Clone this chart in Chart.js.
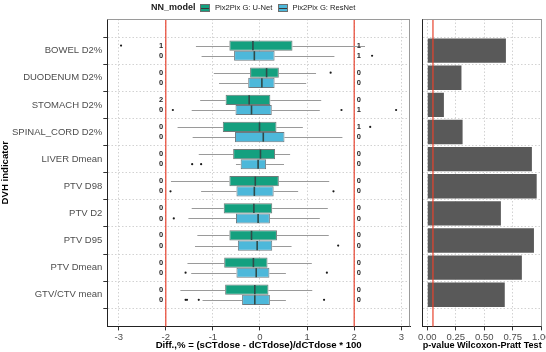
<!DOCTYPE html>
<html>
<head>
<meta charset="utf-8">
<script src="https://cdn.jsdelivr.net/npm/chart.js@4.4.1/dist/chart.umd.min.js"></script>
<style>
  body { margin: 0; background: #fff; font-family: "Liberation Sans", Arial, sans-serif; }
  #wrap { position: relative; width: 546px; height: 352px; overflow: hidden; }
  #left { position: absolute; left: 0; top: 0; }
  #right { position: absolute; left: 412px; top: 0; }
  .lg { position: absolute; white-space: nowrap; color: #1a1a1a; line-height: 1; }
  .lg-title { font-weight: bold; font-size: 9px; left: 151px; top: 3px; }
  .lg-text { font-size: 7.6px; top: 4px; }
  .lg-key { position: absolute; top: 4px; width: 8px; height: 6px; border: 1px solid #6e6e6e; }
  .lg-key::after { content: ""; position: absolute; left: 0; right: 0; top: 2.5px; height: 1px; background: #3a3a3a; }
</style>
</head>
<body>
<div id="wrap">
  <canvas id="left" width="412" height="352"></canvas>
  <canvas id="right" width="134" height="352"></canvas>
  <span class="lg lg-title">NN_model</span>
  <span class="lg-key" style="left:200px;background:#14a07f"></span>
  <span class="lg lg-text" style="left:215px">Pix2Pix G: U-Net</span>
  <span class="lg-key" style="left:278px;background:#4db8da"></span>
  <span class="lg lg-text" style="left:292.5px">Pix2Pix G: ResNet</span>
</div>
<script>
// DVH indicators, top to bottom
var categories = ['BOWEL D2%', 'DUODENUM D2%', 'STOMACH D2%', 'SPINAL_CORD D2%', 'LIVER Dmean',
    'PTV D98', 'PTV D2', 'PTV D95', 'PTV Dmean', 'GTV/CTV mean'];

// box stats per indicator: [lower whisker, q1, median, q3, upper whisker]
var unetStats = [
    [-1.36, -0.65, -0.15, 0.69, 2.23],
    [-0.98, -0.21, 0.14, 0.40, 1.19],
    [-1.27, -0.73, -0.23, 0.22, 1.30],
    [-1.75, -0.79, -0.01, 0.35, 0.91],
    [-1.30, -0.57, 0.01, 0.32, 0.64],
    [-1.89, -0.65, -0.10, 0.40, 1.47],
    [-1.45, -0.77, -0.13, 0.26, 1.44],
    [-1.33, -0.65, -0.18, 0.36, 1.46],
    [-1.54, -0.76, -0.14, 0.16, 1.10],
    [-1.69, -0.74, -0.11, 0.18, 1.11]
];
var resnetStats = [
    [-1.24, -0.55, -0.12, 0.31, 1.58],
    [-0.87, -0.25, 0.04, 0.31, 0.98],
    [-1.45, -0.52, -0.18, 0.25, 1.27],
    [-1.43, -0.53, 0.07, 0.52, 1.75],
    [-0.51, -0.41, -0.04, 0.13, 0.51],
    [-1.25, -0.50, -0.12, 0.29, 0.81],
    [-1.52, -0.51, -0.04, 0.21, 1.27],
    [-1.38, -0.47, -0.06, 0.26, 0.67],
    [-1.46, -0.50, -0.08, 0.20, 0.55],
    [-1.22, -0.38, -0.11, 0.21, 0.55]
];
var unetOutliers = [[-2.95], [1.50], [], [2.34], [], [], [], [], [], []];
var resnetOutliers = [[2.38], [], [-1.85, 1.73, 2.89], [], [-1.44, -1.25], [-1.90, 1.56], [-1.83], [1.66], [-1.58, 1.42], [-1.58, -1.55, -1.30, 1.36]];

// counts of values beyond the -2 / +2 limits
var unetLow = [1, 0, 2, 0, 0, 0, 0, 0, 0, 0];
var resnetLow = [0, 0, 0, 0, 0, 0, 0, 0, 0, 0];
var unetHigh = [1, 0, 0, 1, 0, 0, 0, 0, 0, 0];
var resnetHigh = [1, 0, 1, 0, 0, 0, 0, 0, 0, 0];
var limits = [-2, 2];

// Wilcoxon-Pratt p-values
var pValues = [0.69, 0.30, 0.146, 0.31, 0.918, 0.96, 0.646, 0.936, 0.83, 0.68];
var pThreshold = 0.05;

var xTicks = [-3, -2, -1, 0, 1, 2, 3];
var xTickLabels = ['-3', '-2', '-1', '0', '1', '2', '3'];
var pTicks = [0, 0.25, 0.5, 0.75, 1];
var pTickLabels = ['0.00', '0.25', '0.50', '0.75', '1.00'];

Chart.defaults.font.family = '"Liberation Sans", Arial, sans-serif';

var tickFont = {size: 9.5};
var titleFont = {size: 9.6, weight: 'bold'};
var gridColor = '#d2d2d2';

function line(ctx, x1, y1, x2, y2) {
    ctx.beginPath();
    ctx.moveTo(x1, y1);
    ctx.lineTo(x2, y2);
    ctx.stroke();
}

// top and right edges of the panel (left/bottom come from the axes)
var frame = {
    id: 'frame',
    afterDraw: function(chart) {
        var a = chart.chartArea, ctx = chart.ctx;
        ctx.save();
        ctx.strokeStyle = '#9a9a9a';
        ctx.lineWidth = 1;
        line(ctx, a.left, Math.round(a.top) + 0.5, a.right, Math.round(a.top) + 0.5);
        line(ctx, Math.round(a.right) - 0.5, a.top, Math.round(a.right) - 0.5, a.bottom);
        ctx.restore();
    }
};

var boxExtras = {
    id: 'boxExtras',
    beforeDatasetsDraw: function(chart) {
        var ctx = chart.ctx, x = chart.scales.x, a = chart.chartArea;
        ctx.save();
        ctx.strokeStyle = '#e8432e';
        ctx.lineWidth = 1.2;
        limits.forEach(function(v) {
            var px = x.getPixelForValue(v);
            line(ctx, px, a.top, px, a.bottom);
        });
        ctx.strokeStyle = '#9a9a9a';
        ctx.lineWidth = 1;
        chart.data.datasets.forEach(function(ds, di) {
            chart.getDatasetMeta(di).data.forEach(function(bar, i) {
                var s = ds.stats[i];
                var y = Math.round(bar.y) + 0.5;
                line(ctx, x.getPixelForValue(s[0]), y, x.getPixelForValue(s[1]), y);
                line(ctx, x.getPixelForValue(s[3]), y, x.getPixelForValue(s[4]), y);
            });
        });
        ctx.restore();
    },
    afterDatasetsDraw: function(chart) {
        var ctx = chart.ctx, x = chart.scales.x;
        ctx.save();
        chart.data.datasets.forEach(function(ds, di) {
            chart.getDatasetMeta(di).data.forEach(function(bar, i) {
                var s = ds.stats[i];
                var half = bar.height / 2 - 0.5;
                var mx = x.getPixelForValue(s[2]);
                ctx.strokeStyle = '#2f4a48';
                ctx.lineWidth = 1.6;
                line(ctx, mx, bar.y - half, mx, bar.y + half);

                ctx.fillStyle = '#1a1a1a';
                ds.outliers[i].forEach(function(v) {
                    ctx.beginPath();
                    ctx.arc(x.getPixelForValue(v), bar.y, 1.1, 0, Math.PI * 2);
                    ctx.fill();
                });

                ctx.font = 'bold 7.5px "Liberation Sans", Arial, sans-serif';
                ctx.textAlign = 'center';
                ctx.textBaseline = 'middle';
                ctx.fillStyle = '#262626';
                ctx.fillText(String(ds.low[i]), x.getPixelForValue(limits[0] - 0.1), bar.y);
                ctx.fillText(String(ds.high[i]), x.getPixelForValue(limits[1] + 0.1), bar.y);
            });
        });
        ctx.restore();
    }
};

var pLine = {
    id: 'pLine',
    afterDatasetsDraw: function(chart) {
        var ctx = chart.ctx, a = chart.chartArea;
        var px = chart.scales.x.getPixelForValue(pThreshold);
        ctx.save();
        ctx.strokeStyle = '#e8432e';
        ctx.lineWidth = 1.2;
        line(ctx, px, a.top, px, a.bottom);
        ctx.restore();
    }
};

function indexAxis(showLabels, width) {
    return {
        type: 'linear',
        reverse: true,
        min: -0.6,
        max: categories.length - 0.4,
        afterBuildTicks: function(s) { s.ticks = categories.map(function(c, i) { return {value: i}; }); },
        afterFit: function(s) { s.width = width; },
        ticks: {
            display: showLabels,
            font: tickFont,
            color: '#4d4d4d',
            padding: 1,
            autoSkip: false,
            callback: function(v, i) { return categories[i]; }
        },
        grid: {color: gridColor, drawTicks: showLabels, tickLength: 4, tickColor: '#333', tickBorderDash: []},
        border: {color: '#222', width: 1, dash: [1.5, 2]},
        title: {display: showLabels, text: 'DVH indicator', font: titleFont, color: '#000', padding: {top: 0, bottom: 0}}
    };
}

function valueAxis(min, max, ticks, labels, title) {
    return {
        type: 'linear',
        min: min,
        max: max,
        afterBuildTicks: function(s) { s.ticks = ticks.map(function(v) { return {value: v}; }); },
        afterFit: function(s) { s.height = 25.6; s.paddingLeft = 0; s.paddingRight = 0; },
        ticks: {
            font: tickFont,
            color: '#4d4d4d',
            padding: 1,
            maxRotation: 0,
            autoSkip: false,
            callback: function(v, i) { return labels[i]; }
        },
        grid: {color: gridColor, tickLength: 4, tickColor: '#333', tickBorderDash: []},
        border: {color: '#222', width: 1, dash: [1.5, 2]},
        title: {display: true, text: title, font: titleFont, color: '#000', padding: {top: 0, bottom: 1}}
    };
}

new Chart(document.getElementById('left'), {
    type: 'bar',
    data: {
        datasets: [{
            label: 'Pix2Pix G: U-Net',
            data: unetStats.map(function(s, i) { return {x: [s[1], s[3]], y: i}; }),
            stats: unetStats, outliers: unetOutliers, low: unetLow, high: unetHigh,
            backgroundColor: '#14a07f',
            borderColor: '#6e7a78',
            borderWidth: 1,
            borderSkipped: false
        }, {
            label: 'Pix2Pix G: ResNet',
            data: resnetStats.map(function(s, i) { return {x: [s[1], s[3]], y: i}; }),
            stats: resnetStats, outliers: resnetOutliers, low: resnetLow, high: resnetHigh,
            backgroundColor: '#4db8da',
            borderColor: '#6e7a80',
            borderWidth: 1,
            borderSkipped: false
        }]
    },
    options: {
        indexAxis: 'y',
        responsive: false,
        animation: false,
        events: [],
        categoryPercentage: 0.75,
        barPercentage: 1,
        layout: {padding: {top: 19, right: 2, left: 0, bottom: 0}},
        plugins: {legend: {display: false}, tooltip: {enabled: false}},
        scales: {
            x: valueAxis(-3.242, 3.185, xTicks, xTickLabels, 'Diff.,% = (sCTdose - dCTdose)/dCTdose * 100'),
            y: indexAxis(true, 107.3)
        }
    },
    plugins: [boxExtras, frame]
});

new Chart(document.getElementById('right'), {
    type: 'bar',
    data: {
        datasets: [{
            label: 'p-value',
            data: pValues.map(function(p, i) { return {x: p, y: i}; }),
            backgroundColor: '#595959',
            borderWidth: 0
        }]
    },
    options: {
        indexAxis: 'y',
        responsive: false,
        animation: false,
        events: [],
        categoryPercentage: 0.9,
        barPercentage: 1,
        layout: {padding: {top: 19, right: 4.3, left: 10.7, bottom: 0}},
        plugins: {legend: {display: false}, tooltip: {enabled: false}},
        scales: {
            x: valueAxis(-0.04, 1.004, pTicks, pTickLabels, 'p-value Wilcoxon-Pratt Test'),
            y: indexAxis(false, 0)
        }
    },
    plugins: [pLine, frame]
});
</script>
</body>
</html>
